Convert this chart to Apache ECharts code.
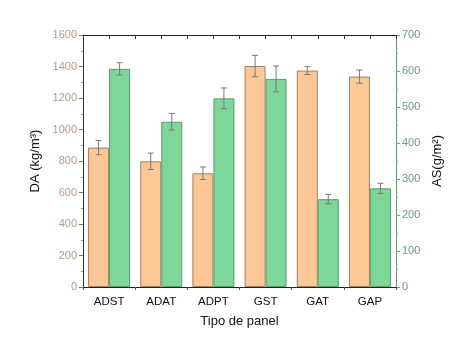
<!DOCTYPE html>
<html>
<head>
<meta charset="utf-8">
<script src="https://cdn.jsdelivr.net/npm/echarts@6/dist/echarts.min.js"></script>
<style>
  html, body { margin: 0; padding: 0; background: #fff; }
  #chart { width: 456px; height: 346px; }
</style>
</head>
<body>
<div id="chart"></div>
<script>
const categories = ['ADST', 'ADAT', 'ADPT', 'GST', 'GAT', 'GAP'];
const daValues = [885, 798, 722, 1403, 1374, 1336];
const daErrors = [45, 52, 40, 68, 25, 42];
const asValues = [606, 459, 524, 578, 244, 274];
const asErrors = [17, 23, 29, 36, 13, 14];

const BAR_W = 21;
const FONT = 'Liberation Sans, Arial, sans-serif';

const chart = echarts.init(document.getElementById('chart'));

// error bars drawn over a bar, shifted left or right of the category centre
function errorSeries(values, errors, yAxisIndex, shift) {
  return {
    type: 'custom',
    yAxisIndex: yAxisIndex,
    z: 10,
    data: values.map((v, i) => [i, v - errors[i], v + errors[i]]),
    renderItem: (params, api) => {
      const lo = api.coord([api.value(0), api.value(1)]);
      const hi = api.coord([api.value(0), api.value(2)]);
      const x = lo[0] + shift;
      const cap = 3;
      const style = { stroke: '#7a7a7a', lineWidth: 1 };
      return {
        type: 'group',
        children: [
          { type: 'line', shape: { x1: x, y1: hi[1], x2: x, y2: lo[1] }, style },
          { type: 'line', shape: { x1: x - cap, y1: hi[1], x2: x + cap, y2: hi[1] }, style },
          { type: 'line', shape: { x1: x - cap, y1: lo[1], x2: x + cap, y2: lo[1] }, style }
        ]
      };
    }
  };
}

const plain = v => String(v);

const option = {
  animation: false,
  grid: { left: 83, right: 60, top: 35, bottom: 59 },
  xAxis: [
    {
      type: 'category',
      data: categories,
      name: 'Tipo de panel',
      nameLocation: 'middle',
      nameGap: 28,
      nameTextStyle: { fontFamily: FONT, fontSize: 13, color: '#111' },
      axisLine: { onZero: false, lineStyle: { color: '#222', width: 1 } },
      axisTick: { alignWithLabel: true, length: 5, lineStyle: { color: '#333' } },
      axisLabel: { fontFamily: FONT, fontSize: 11.5, color: '#111', margin: 9 }
    },
    {
      // top frame with inward ticks at centres and boundaries
      type: 'value',
      position: 'top',
      min: -0.5, max: 5.5, interval: 0.5,
      axisLine: { show: true, onZero: false, lineStyle: { color: '#222', width: 1 } },
      axisTick: { show: true, inside: true, length: 4, lineStyle: { color: '#333' } },
      axisLabel: { show: false },
      splitLine: { show: false }
    },
    {
      // short outward ticks at category boundaries on the bottom
      type: 'value',
      position: 'bottom',
      min: -0.5, max: 5.5, interval: 1,
      axisLine: { show: false, onZero: false },
      axisTick: { show: true, length: 3, lineStyle: { color: '#555' } },
      axisLabel: { show: false },
      splitLine: { show: false }
    }
  ],
  yAxis: [
    {
      type: 'value',
      min: 0, max: 1600, interval: 200,
      name: 'DA (kg/m³)',
      nameLocation: 'middle',
      nameGap: 38,
      nameTextStyle: { fontFamily: FONT, fontSize: 13, color: '#111' },
      axisLine: { show: true, onZero: false, lineStyle: { color: '#333' } },
      axisTick: { show: true, length: 4, lineStyle: { color: '#777' } },
      minorTick: { show: true, splitNumber: 2, length: 2, lineStyle: { color: '#999' } },
      splitLine: { show: false },
      axisLabel: { fontFamily: FONT, fontSize: 11, color: '#b8977f', margin: 6, formatter: plain }
    },
    {
      type: 'value',
      min: 0, max: 700, interval: 100,
      name: 'AS(g/m²)',
      nameLocation: 'middle',
      nameGap: 32,
      nameRotate: 90,
      nameTextStyle: { fontFamily: FONT, fontSize: 13, color: '#111', verticalAlign: 'top', align: 'center' },
      axisLine: { show: true, onZero: false, lineStyle: { color: '#5f9a72' } },
      axisTick: { show: true, length: 4, lineStyle: { color: '#6f9f80' } },
      minorTick: { show: true, splitNumber: 2, length: 2, lineStyle: { color: '#8fb59c' } },
      splitLine: { show: false },
      axisLabel: { fontFamily: FONT, fontSize: 11, color: '#6f9a7e', margin: 6, formatter: plain }
    }
  ],
  series: [
    {
      type: 'bar',
      yAxisIndex: 0,
      data: daValues,
      barWidth: BAR_W,
      barGap: '0%',
      itemStyle: { color: '#fdc897', borderColor: '#a5805f', borderWidth: 1 }
    },
    {
      type: 'bar',
      yAxisIndex: 1,
      data: asValues,
      barWidth: BAR_W,
      barGap: '0%',
      itemStyle: { color: '#7dd69a', borderColor: '#5c9d70', borderWidth: 1 }
    },
    errorSeries(daValues, daErrors, 0, -BAR_W / 2),
    errorSeries(asValues, asErrors, 1, BAR_W / 2)
  ]
};

chart.setOption(option);
</script>
</body>
</html>
